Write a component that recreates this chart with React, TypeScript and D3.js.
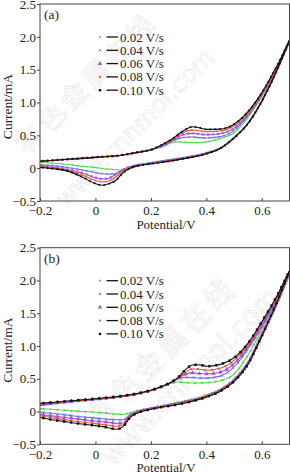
import React, { useEffect, useRef } from "react";
import * as d3 from "d3";

// ---------- data ----------
const potentialsFwd = [-0.2, -0.1, 0, 0.1, 0.15, 0.2, 0.25, 0.275, 0.3, 0.325, 0.35, 0.375, 0.4, 0.45, 0.5, 0.55, 0.6, 0.65, 0.7];
const potentialsRev = [0.7, 0.65, 0.6, 0.55, 0.5, 0.45, 0.4, 0.3, 0.2, 0.15, 0.125, 0.1, 0.075, 0.05, 0.025, 0, -0.05, -0.1, -0.15, -0.2];

const scanRates = ["0.02 V/s", "0.04 V/s", "0.06 V/s", "0.08 V/s", "0.10 V/s"];

const xTicks = [-0.2, 0, 0.2, 0.4, 0.6];
const xTickLabels = ["\u22120.2", "0", "0.2", "0.4", "0.6"];
const yTicks = [-0.5, 0, 0.5, 1.0, 1.5, 2.0, 2.5];
const yTickLabels = ["\u22120.5", "0", "0.5", "1.0", "1.5", "2.0", "2.5"];

// panel (a) forward (anodic) scans
const aFwd002 = [0.105, 0.135, 0.165, 0.2, 0.24, 0.28, 0.34, 0.39, 0.40, 0.395, 0.39, 0.39, 0.40, 0.45, 0.54, 0.77, 1.09, 1.48, 1.93];
const aFwd004 = [0.105, 0.135, 0.165, 0.2, 0.24, 0.28, 0.35, 0.41, 0.45, 0.47, 0.475, 0.465, 0.46, 0.48, 0.575, 0.8, 1.11, 1.49, 1.93];
const aFwd006 = [0.105, 0.135, 0.165, 0.2, 0.24, 0.28, 0.36, 0.42, 0.48, 0.52, 0.53, 0.52, 0.51, 0.525, 0.61, 0.82, 1.12, 1.5, 1.94];
const aFwd008 = [0.105, 0.135, 0.165, 0.2, 0.24, 0.28, 0.37, 0.43, 0.5, 0.56, 0.58, 0.57, 0.555, 0.565, 0.645, 0.84, 1.13, 1.5, 1.94];
const aFwd010 = [0.105, 0.135, 0.165, 0.2, 0.24, 0.28, 0.38, 0.44, 0.52, 0.59, 0.63, 0.615, 0.59, 0.595, 0.67, 0.86, 1.15, 1.52, 1.95];
// panel (a) reverse (cathodic) scans
const aRev002 = [1.93, 1.45, 1.02, 0.68, 0.47, 0.31, 0.235, 0.15, 0.085, 0.03, -0.01, -0.03, -0.025, -0.015, -0.005, 0.01, 0.03, 0.055, 0.075, 0.09];
const aRev004 = [1.93, 1.45, 1.02, 0.68, 0.46, 0.3, 0.23, 0.145, 0.08, 0.05, 0.02, -0.03, -0.08, -0.09, -0.085, -0.065, -0.025, 0.01, 0.035, 0.05];
const aRev006 = [1.94, 1.45, 1.02, 0.68, 0.46, 0.3, 0.225, 0.14, 0.075, 0.04, 0.02, -0.02, -0.09, -0.15, -0.165, -0.145, -0.07, -0.02, 0.01, 0.03];
const aRev008 = [1.94, 1.45, 1.02, 0.68, 0.46, 0.3, 0.22, 0.135, 0.07, 0.035, 0.01, -0.045, -0.13, -0.19, -0.21, -0.19, -0.1, -0.035, 0.0, 0.02];
const aRev010 = [1.95, 1.45, 1.02, 0.68, 0.46, 0.3, 0.22, 0.13, 0.065, 0.035, 0.0, -0.07, -0.18, -0.235, -0.26, -0.235, -0.13, -0.045, -0.01, 0.01];

// panel (b) forward scans
const bFwd002 = [0.09, 0.14, 0.18, 0.225, 0.265, 0.315, 0.39, 0.43, 0.45, 0.44, 0.435, 0.435, 0.44, 0.47, 0.57, 0.86, 1.24, 1.62, 2.1];
const bFwd004 = [0.1, 0.145, 0.185, 0.23, 0.27, 0.32, 0.4, 0.45, 0.5, 0.52, 0.52, 0.51, 0.51, 0.54, 0.68, 0.95, 1.29, 1.66, 2.12];
const bFwd006 = [0.105, 0.15, 0.19, 0.235, 0.27, 0.32, 0.4, 0.45, 0.51, 0.57, 0.59, 0.58, 0.575, 0.6, 0.73, 0.98, 1.32, 1.69, 2.13];
const bFwd008 = [0.115, 0.155, 0.19, 0.235, 0.27, 0.32, 0.4, 0.45, 0.52, 0.6, 0.65, 0.645, 0.63, 0.66, 0.78, 1.01, 1.35, 1.71, 2.14];
const bFwd010 = [0.125, 0.16, 0.195, 0.24, 0.275, 0.325, 0.4, 0.45, 0.53, 0.64, 0.71, 0.715, 0.69, 0.72, 0.82, 1.04, 1.37, 1.73, 2.15];
// panel (b) reverse scans
const bRev002 = [2.1, 1.6, 1.17, 0.75, 0.49, 0.34, 0.25, 0.14, 0.05, 0.01, -0.02, -0.045, -0.04, -0.03, -0.02, -0.01, 0.0, 0.015, 0.03, 0.045];
const bRev004 = [2.12, 1.61, 1.17, 0.74, 0.48, 0.33, 0.24, 0.13, 0.05, 0.0, -0.05, -0.125, -0.125, -0.12, -0.11, -0.1, -0.08, -0.055, -0.03, -0.01];
const bRev006 = [2.13, 1.62, 1.17, 0.74, 0.48, 0.325, 0.235, 0.125, 0.045, -0.01, -0.06, -0.175, -0.18, -0.165, -0.155, -0.145, -0.12, -0.095, -0.07, -0.04];
const bRev008 = [2.14, 1.62, 1.16, 0.73, 0.47, 0.32, 0.23, 0.12, 0.04, -0.015, -0.075, -0.2, -0.225, -0.21, -0.2, -0.185, -0.16, -0.13, -0.1, -0.065];
const bRev010 = [2.15, 1.62, 1.15, 0.72, 0.46, 0.31, 0.22, 0.11, 0.035, -0.025, -0.09, -0.23, -0.27, -0.25, -0.23, -0.215, -0.19, -0.16, -0.13, -0.09];

// ---------- styling ----------
const seriesColors = ["#55d855", "#6e6ef0", "#a450d8", "#e0553a", "#111111"];
const markerShapes = ["dot", "x", "tri", "dot", "square"];
const SERIF = "'Liberation Serif', 'Times New Roman', serif";

const panels = [
  {
    id: "a", label: "(a)", top: 4, bottom: 201,
    fwd: [aFwd002, aFwd004, aFwd006, aFwd008, aFwd010],
    rev: [aRev002, aRev004, aRev006, aRev008, aRev010],
    spacing: 5, msize: 0.8,
    wmCn: { x: 85, y: 82, size: 27 }, wmUrl: { x: 135, y: 128, size: 24 },
  },
  {
    id: "b", label: "(b)", top: 247.7, bottom: 444.3,
    fwd: [bFwd002, bFwd004, bFwd006, bFwd008, bFwd010],
    rev: [bRev002, bRev004, bRev006, bRev008, bRev010],
    spacing: 7, msize: 1.1,
    wmCn: { x: 160, y: 350, size: 29 }, wmUrl: { x: 190, y: 376, size: 27 },
  },
];

const LEFT = 40;
const RIGHT = 289.5;

function drawMarker(g: any, shape: string, x: number, y: number, color: string, s: number) {
  if (shape === "dot") {
    g.append("circle").attr("cx", x).attr("cy", y).attr("r", s).attr("fill", color);
  } else if (shape === "square") {
    g.append("rect").attr("x", x - s * 1.1).attr("y", y - s * 1.1).attr("width", s * 2.2).attr("height", s * 2.2).attr("fill", color);
  } else if (shape === "tri") {
    g.append("path").attr("transform", `translate(${x},${y})`)
      .attr("d", d3.symbol().type(d3.symbolTriangle).size(s * s * 7)()).attr("fill", color);
  } else {
    const k = s * 1.1;
    g.append("path").attr("transform", `translate(${x},${y})`)
      .attr("d", `M${-k},${-k}L${k},${k}M${-k},${k}L${k},${-k}`)
      .attr("stroke", color).attr("stroke-width", 0.8).attr("fill", "none");
  }
}

export default function App() {
  const ref = useRef<SVGSVGElement>(null);

  useEffect(() => {
    const svg = d3.select(ref.current);
    svg.selectAll("*").remove();
    svg.append("rect").attr("width", 290).attr("height", 472).attr("fill", "#fff");

    const x = d3.scaleLinear().domain([-0.2, 0.7]).range([LEFT, RIGHT]);

    panels.forEach((p) => {
      const y = d3.scaleLinear().domain([-0.5, 2.5]).range([p.bottom, p.top]);
      const g = svg.append("g");

      // watermark
      g.append("text").text("有色金属在线")
        .attr("transform", `translate(${p.wmCn.x},${p.wmCn.y}) rotate(-45)`)
        .attr("text-anchor", "middle").attr("dominant-baseline", "central")
        .attr("font-family", "'Noto Sans CJK SC', sans-serif").attr("font-size", p.wmCn.size)
        .attr("letter-spacing", 4)
        .attr("fill", "none").attr("stroke", "#dedede").attr("stroke-width", 0.45);
      g.append("text").text("www.cnnmol.com")
        .attr("transform", `translate(${p.wmUrl.x},${p.wmUrl.y}) rotate(-45)`)
        .attr("text-anchor", "middle").attr("dominant-baseline", "central")
        .attr("font-family", "'DejaVu Sans', sans-serif").attr("font-size", p.wmUrl.size)
        .attr("fill", "none").attr("stroke", "#dedede").attr("stroke-width", 0.45);

      const clipId = `clip-${p.id}`;
      svg.append("clipPath").attr("id", clipId).append("rect")
        .attr("x", LEFT).attr("y", p.top).attr("width", RIGHT - LEFT).attr("height", p.bottom - p.top);

      const line = d3.line<[number, number]>().x((d) => x(d[0])).y((d) => y(d[1])).curve(d3.curveMonotoneX);
      const plot = g.append("g").attr("clip-path", `url(#${clipId})`);

      p.fwd.forEach((fv, i) => {
        const color = seriesColors[i];
        const fwdPts: [number, number][] = potentialsFwd.map((e, k) => [e, fv[k]]);
        const revPts: [number, number][] = potentialsRev.map((e, k) => [e, p.rev[i][k]] as [number, number]).reverse();
        [fwdPts, revPts].forEach((pts) => {
          const path = plot.append("path").attr("d", line(pts)).attr("fill", "none")
            .attr("stroke", color).attr("stroke-width", 1.1);
          const node = path.node() as SVGPathElement;
          const L = node.getTotalLength();
          for (let s = p.spacing / 2; s < L; s += p.spacing) {
            const pt = node.getPointAtLength(s);
            drawMarker(plot, markerShapes[i], pt.x, pt.y, color, p.msize);
          }
        });
      });

      // frame
      g.append("rect").attr("x", LEFT).attr("y", p.top).attr("width", RIGHT - LEFT).attr("height", p.bottom - p.top)
        .attr("fill", "none").attr("stroke", "#444").attr("stroke-width", 1);

      // axes
      const yAxis = d3.axisLeft(y).tickValues(yTicks).tickSize(3).tickPadding(1)
        .tickFormat((_d, k) => yTickLabels[k]);
      const ya = g.append("g").attr("transform", `translate(${LEFT},0)`).call(yAxis);
      const xAxis = d3.axisBottom(x).tickValues(xTicks).tickSizeInner(-3).tickSizeOuter(0).tickPadding(5)
        .tickFormat((_d, k) => xTickLabels[k]);
      const xa = g.append("g").attr("transform", `translate(0,${p.bottom})`).call(xAxis);
      [ya, xa].forEach((a) => {
        a.select(".domain").remove();
        a.selectAll("line").attr("stroke", "#444");
        a.selectAll("text").attr("font-family", SERIF).attr("font-size", 13).attr("fill", "#222");
      });

      // axis titles
      g.append("text").text("Potential/V").attr("x", 166).attr("y", p.bottom + 28)
        .attr("text-anchor", "middle").attr("font-family", SERIF).attr("font-size", 13).attr("fill", "#222");
      g.append("text").text("Current/mA")
        .attr("transform", `translate(12,${(p.top + p.bottom) / 2 + 4}) rotate(-90)`)
        .attr("text-anchor", "middle").attr("font-family", SERIF).attr("font-size", 13.5).attr("fill", "#222");

      // panel label
      g.append("text").text(p.label).attr("x", 44).attr("y", p.top + 15)
        .attr("font-family", SERIF).attr("font-size", 13.5).attr("fill", "#222");

      // legend
      const lg = g.append("g");
      scanRates.forEach((lab, i) => {
        const cy = p.top + 33 + i * 13.3;
        drawMarker(lg, markerShapes[i], 100, cy, seriesColors[i], 1.1);
        lg.append("line").attr("x1", 106.5).attr("x2", 118).attr("y1", cy).attr("y2", cy)
          .attr("stroke", "#111").attr("stroke-width", 1.3);
        lg.append("text").text(lab).attr("x", 120).attr("y", cy + 4.5)
          .attr("font-family", SERIF).attr("font-size", 13).attr("fill", "#222");
      });
    });
  }, []);

  return (
    <svg ref={ref} width={290} height={472} style={{ position: "absolute", left: 0, top: 0 }} />
  );
}
